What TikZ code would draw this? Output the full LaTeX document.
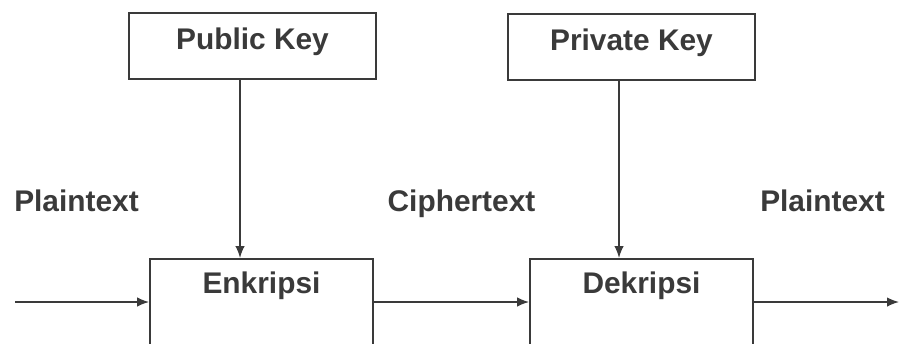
\documentclass[tikz,border=0pt]{standalone}
\usepackage{fontspec}
\setmainfont{Liberation Sans}
\usetikzlibrary{arrows.meta}
\usetikzlibrary{positioning}
\definecolor{inkgrey}{HTML}{3A3A3A}
\tikzstyle{keybox} = [rectangle, minimum width=4.94cm, minimum height=1.32cm, inner sep=0pt, text height=0.75em, text depth=0.35em, draw=inkgrey, line width=1.1pt, text=inkgrey, font=\bfseries\fontsize{17}{20}\selectfont]
\tikzstyle{process} = [rectangle, anchor=north, minimum width=4.46cm, inner sep=0pt, text height=0.7cm, text depth=1.94cm, draw=inkgrey, line width=1.1pt, text=inkgrey, font=\bfseries\fontsize{17}{20}\selectfont]
\tikzstyle{flowtext} = [anchor=base, inner sep=0pt, text=inkgrey, font=\bfseries\fontsize{17}{20}\selectfont]
\tikzstyle{arrow} = [draw=inkgrey, line width=0.85pt, -{Latex[length=0.24cm,width=0.19cm]}]
\begin{document}
\begin{tikzpicture}[x=0.02cm, y=-0.02cm]

\path[use as bounding box, clip] (0,0) rectangle (900,343);

\node (pub) [keybox] at (252.5,46) {Public Key};

\node (priv) [keybox] at (631.5,47) {Private Key};

\node (enc) [process] at (261.5,258) {Enkripsi};

\node (dec) [process] at (641.5,258) {Dekripsi};

\node (pt1) [flowtext] at (76.5,211) {Plaintext};

\node (ct) [flowtext] at (461.5,211) {Ciphertext};

\node (pt2) [flowtext] at (822.5,211) {Plaintext};

\coordinate (in) at (15,302);
\coordinate (out) at (899,302);


\draw [arrow] ([xshift=-0.25cm]pub.south) -- ([xshift=-0.25cm]pub.south |- enc.north);
\draw [arrow] ([xshift=-0.25cm]priv.south) -- ([xshift=-0.25cm]priv.south |- dec.north);
\draw [arrow] (in) -- (in -| enc.west);
\draw [arrow] (enc.east |- in) -- (dec.west |- in);
\draw [arrow] (dec.east |- in) -- (out);


\end{tikzpicture}
\end{document}
